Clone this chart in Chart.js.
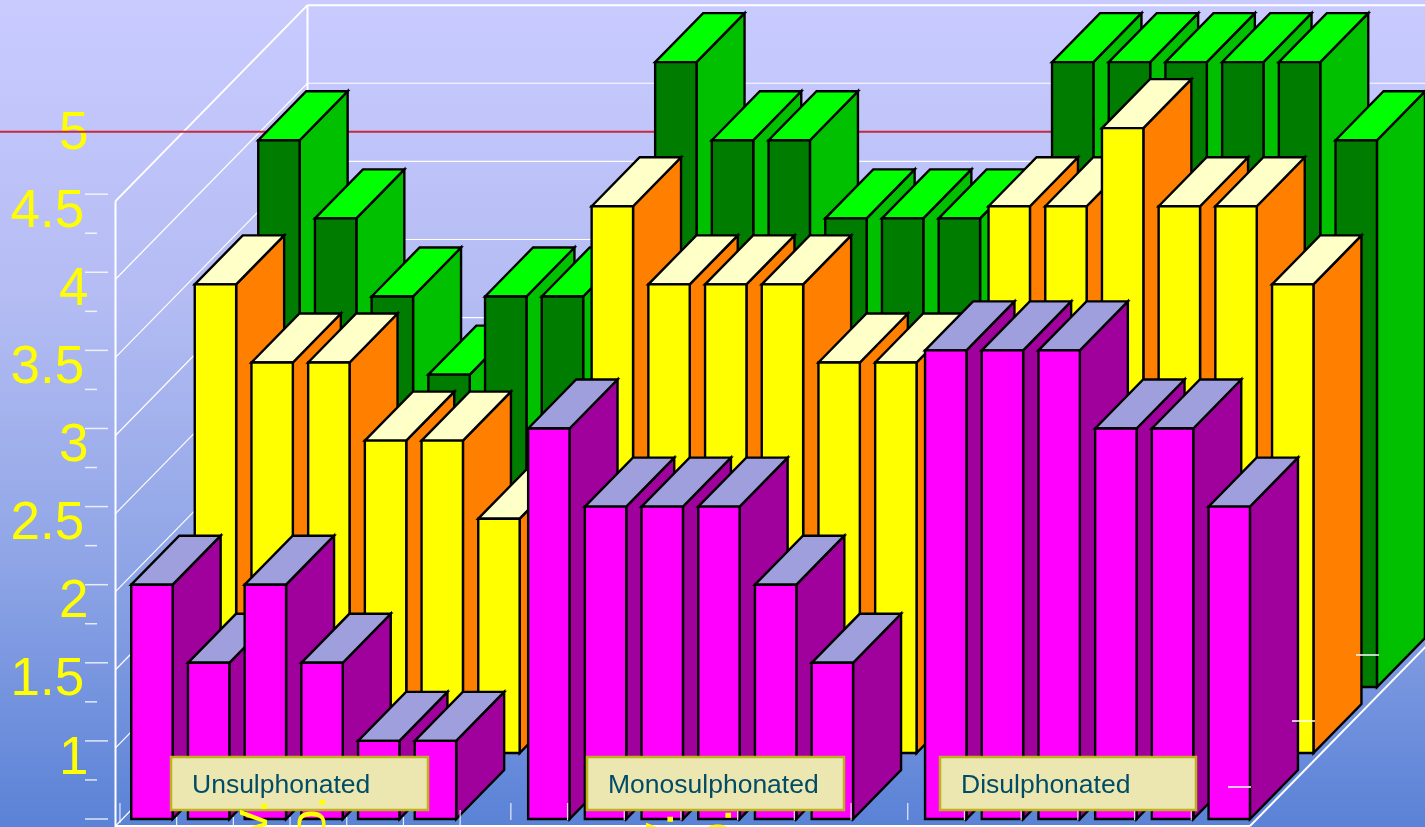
<!DOCTYPE html>
<html>
<head>
<meta charset="utf-8">
<title>Sulphonation chart</title>
<script src="https://cdn.jsdelivr.net/npm/chart.js@4/dist/chart.umd.min.js"></script>
<style>
    html, body { margin: 0; padding: 0; overflow: hidden; }
    canvas { display: block; }
</style>
</head>
<body>
<canvas id="myChart" width="1425" height="827"></canvas>
<script>
// empty slots separate the three groups
var slots = ['1', '2', '3', '4', '5', '6', '', '7', '8', '9', '10', '11', '12', '', '13', '14', '15', '16', '17', '18'];
var frontRow = [2, 1.5, 2, 1.5, 1, 1, null, 3, 2.5, 2.5, 2.5, 2, 1.5, null, 3.5, 3.5, 3.5, 3, 3, 2.5];
var middleRow = [3.5, 3, 3, 2.5, 2.5, 2, null, 4, 3.5, 3.5, 3.5, 3, 3, null, 4, 4, 4.5, 4, 4, 3.5];
var backRow = [4, 3.5, 3, 2.5, 3, 3, null, 4.5, 4, 4, 3.5, 3.5, 3.5, null, 4.5, 4.5, 4.5, 4.5, 4.5, 4];
var groupNames = ['Unsulphonated', 'Monosulphonated', 'Disulphonated'];
var cutOffLabels = ['v.', 'o.', 'v.', 'o.'];
var baseValue = 0.5;
var limitValue = 4.9;

var sideColors = ['#a0009c', '#ff8000', '#00c000'];
var topColors = ['#9f9fdd', '#ffffc8', '#00ff00'];

var ROW_DX = 63.5, ROW_DY = 66;
var DEPTH_DX = 48, DEPTH_DY = 49;
var WALL_DX = 192, WALL_DY = 196;
var FONT = '"Liberation Sans", Arial, sans-serif';

function line(ctx, x1, y1, x2, y2) {
    ctx.beginPath();
    ctx.moveTo(x1, y1);
    ctx.lineTo(x2, y2);
    ctx.stroke();
}

function poly(ctx, pts, fill) {
    ctx.beginPath();
    ctx.moveTo(pts[0], pts[1]);
    for (var i = 2; i < pts.length; i += 2) {
        ctx.lineTo(pts[i], pts[i + 1]);
    }
    ctx.closePath();
    ctx.fillStyle = fill;
    ctx.fill();
    ctx.stroke();
}

var threeD = {
    id: 'threeD',
    beforeDraw: function (chart) {
        var ctx = chart.ctx;
        var g = ctx.createLinearGradient(0, 0, 0, chart.height);
        g.addColorStop(0, '#c9cbff');
        g.addColorStop(0.36, '#b4bcf3');
        g.addColorStop(0.68, '#8fa5e6');
        g.addColorStop(1, '#5a82d6');
        ctx.fillStyle = g;
        ctx.fillRect(0, 0, chart.width, chart.height);
    },
    beforeDatasetsDraw: function (chart) {
        var ctx = chart.ctx, y = chart.scales.y;
        var wallX = 115.5, floorY = y.getPixelForValue(baseValue) + 7;
        ctx.save();
        ctx.strokeStyle = '#ffffff';

        // walls, one line per half unit
        for (var v = 0.5; v <= 4.5; v += 0.5) {
            var py = y.getPixelForValue(v) + 7;
            ctx.lineWidth = v === 4.5 ? 2 : 1.2;
            line(ctx, wallX, py, wallX + WALL_DX, py - WALL_DY);
            line(ctx, wallX + WALL_DX, py - WALL_DY, chart.width, py - WALL_DY);
        }
        ctx.lineWidth = 2;
        line(ctx, wallX, y.getPixelForValue(4.5) + 7, wallX, chart.height);
        line(ctx, wallX + WALL_DX, y.getPixelForValue(4.5) + 7 - WALL_DY, wallX + WALL_DX, floorY - WALL_DY);
        line(ctx, wallX, floorY, 1250, floorY);
        line(ctx, 1250, floorY, 1250 + WALL_DX, floorY - WALL_DY);

        // tick marks left of the wall, 4.5 and below
        y.ticks.forEach(function (t) {
            if (t.value > 4.5) {
                return;
            }
            var major = t.value % 0.5 === 0;
            var ty = y.getPixelForValue(t.value);
            ctx.lineWidth = 1.5;
            ctx.strokeStyle = 'rgba(255,255,255,0.8)';
            line(ctx, 85, ty, major ? 108 : 97, ty);
        });

        ctx.strokeStyle = '#c8283c';
        ctx.lineWidth = 2;
        var ly = y.getPixelForValue(limitValue);
        line(ctx, 0, ly, chart.width, ly);
        ctx.restore();
    },
    beforeDatasetDraw: function (chart, args) {
        var ctx = chart.ctx;
        var row = args.index;
        var dataset = chart.data.datasets[row];
        ctx.save();
        ctx.translate(row * ROW_DX, -row * ROW_DY);
        ctx.strokeStyle = '#000000';
        ctx.lineWidth = 2.4;
        ctx.lineJoin = 'miter';
        args.meta.data.forEach(function (bar, i) {
            if (dataset.data[i] === null) {
                return;
            }
            var l = bar.x - bar.width / 2, r = bar.x + bar.width / 2;
            var t = bar.y, b = bar.base;
            poly(ctx, [r, t, r + DEPTH_DX, t - DEPTH_DY, r + DEPTH_DX, b - DEPTH_DY, r, b], sideColors[row]);
            poly(ctx, [l, t, l + DEPTH_DX, t - DEPTH_DY, r + DEPTH_DX, t - DEPTH_DY, r, t], topColors[row]);
            poly(ctx, [l, t, r, t, r, b, l, b], dataset.backgroundColor);
        });
        ctx.restore();
        return false;
    },
    afterDatasetsDraw: function (chart) {
        var ctx = chart.ctx, x = chart.scales.x;
        ctx.save();
        ctx.strokeStyle = 'rgba(255,255,255,0.85)';
        ctx.lineWidth = 1.2;

        // category ticks along the floor edge
        slots.forEach(function (s, i) {
            var tx = x.getPixelForTick(i) - (i < 7 ? 32 : 38);
            var from = 817, to = 827;
            if (i === 0) { from = 803; to = 823; }
            if (i === 6) { from = 810; }
            if (i >= 7) { from = 803; to = 820; }
            line(ctx, tx, from, tx, to);
        });

        // depth ticks, one per row
        ctx.lineWidth = 1.5;
        ctx.strokeStyle = '#ffffff';
        for (var r = 0; r < 3; r++) {
            line(ctx, 1228 + r * 64, 787 - r * 66, 1251 + r * 64, 787 - r * 66);
        }

        // group captions
        var boxX = [171, 587, 940], boxW = [257, 257, 256];
        groupNames.forEach(function (name, i) {
            ctx.fillStyle = '#ece6b0';
            ctx.strokeStyle = '#bdb21c';
            ctx.lineWidth = 2.5;
            ctx.fillRect(boxX[i], 757, boxW[i], 53);
            ctx.strokeRect(boxX[i], 757, boxW[i], 53);
            ctx.fillStyle = '#004c66';
            ctx.font = '26.5px ' + FONT;
            ctx.textAlign = 'left';
            ctx.textBaseline = 'alphabetic';
            ctx.fillText(name, boxX[i] + 21, 793);
        });

        // rotated labels that run off the bottom of the picture
        var cutX = [267, 325, 673, 731], cutY = [799, 795, 812, 808];
        ctx.fillStyle = '#ffff00';
        ctx.font = '52px ' + FONT;
        ctx.textAlign = 'right';
        cutOffLabels.forEach(function (txt, i) {
            ctx.save();
            ctx.translate(cutX[i], cutY[i]);
            ctx.rotate(-Math.PI / 2);
            ctx.fillText(txt, 0, 0);
            ctx.restore();
        });
        ctx.restore();
    }
};

var ctx = document.getElementById('myChart').getContext('2d');
var myChart = new Chart(ctx, {
    type: 'bar',
    data: {
        labels: slots,
        datasets: [{
            label: 'Front',
            data: frontRow,
            backgroundColor: '#ff00ff'
        }, {
            label: 'Middle',
            data: middleRow,
            backgroundColor: '#ffff00'
        }, {
            label: 'Back',
            data: backRow,
            backgroundColor: '#007d00'
        }]
    },
    options: {
        responsive: false,
        animation: false,
        grouped: false,
        base: baseValue,
        barPercentage: 0.73,
        categoryPercentage: 1,
        layout: { padding: { top: 0, right: 167.4, bottom: 8, left: 0 } },
        plugins: {
            legend: { display: false },
            tooltip: { enabled: false }
        },
        scales: {
            x: { display: false },
            y: {
                beginAtZero: false,
                min: baseValue,
                max: 5.743,
                afterFit: function (scale) {
                    scale.width = 123.6;
                    scale.paddingTop = 0;
                    scale.paddingBottom = 0;
                },
                border: { display: false },
                grid: { display: false, drawTicks: false },
                ticks: {
                    stepSize: 0.25,
                    includeBounds: false,
                    autoSkip: false,
                    padding: 35,
                    labelOffset: 18,
                    color: '#ffff00',
                    font: { family: FONT, size: 53 },
                    callback: function (value) {
                        if (value % 0.5 !== 0 || value < 1 || value > 5) {
                            return '';
                        }
                        // half values sit a little further left than whole numbers
                        return value % 1 === 0 ? String(value) : value + '\u200a';
                    }
                }
            }
        }
    },
    plugins: [threeD]
});
</script>
</body>
</html>
